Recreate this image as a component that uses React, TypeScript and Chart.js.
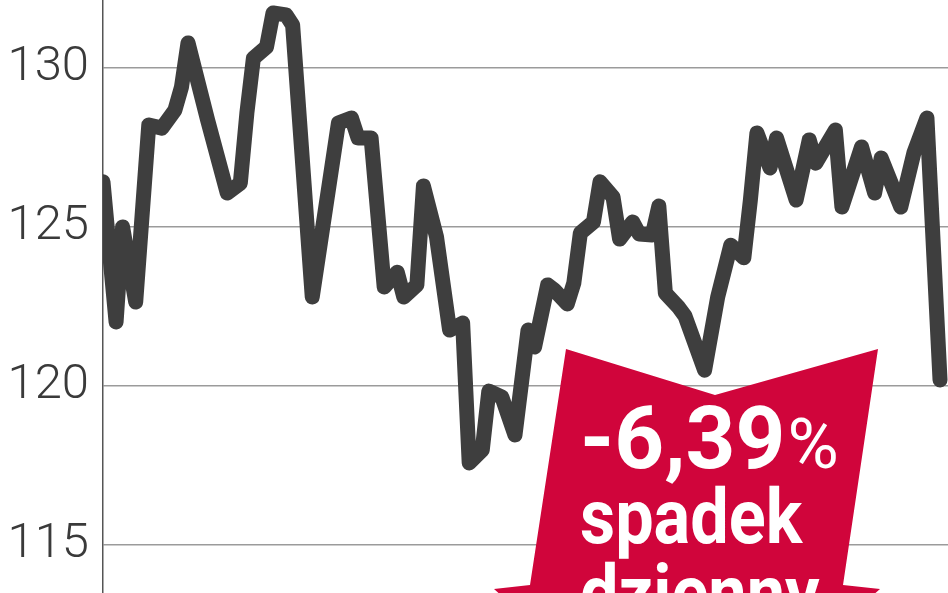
import { useEffect, useRef } from "react"
import { Chart, registerables } from "chart.js"

Chart.register(...registerables)

// trading-day index of each traced turning point, and the closing value there
const days = [
  0, 2, 3, 5, 7, 9, 11, 12, 13, 16, 19, 21, 22, 23, 25, 26, 28, 29, 32, 36, 38, 39, 41, 43, 45, 46, 48, 49, 51, 53,
  55, 56, 58, 59, 61, 63, 65, 66, 68, 69, 71, 72, 73, 75, 76, 78, 79, 81, 82, 84, 85, 86, 88, 89, 92, 94, 96, 98, 99,
  100, 102, 103, 106, 108, 109, 112, 113, 116, 118, 119, 122, 124, 126, 128,
]
const prices = [
  126.42, 122.01, 125.0, 122.64, 128.21, 128.11, 128.68, 129.4, 130.79, 128.36, 126.07, 126.38, 128.58, 130.31, 130.66,
  131.73, 131.67, 131.35, 122.8, 128.27, 128.43, 127.8, 127.8, 123.11, 123.58, 122.8, 123.18, 126.29, 124.69, 121.76,
  121.98, 117.58, 117.99, 119.84, 119.65, 118.46, 121.76, 121.23, 123.18, 123.02, 122.58, 123.24, 124.81, 125.16, 126.42,
  125.94, 124.62, 125.16, 124.78, 124.75, 125.66, 122.92, 122.48, 122.2, 120.5, 122.8, 124.43, 124.03, 125.85, 127.96,
  126.86, 127.8, 125.85, 127.74, 127.01, 128.05, 125.63, 127.52, 126.07, 127.17, 125.63, 127.33, 128.43, 120.19,
]
const yTicks = [115, 120, 125, 130]

const changeLabel = "-6,39"
const changeUnit = "%"
const captionLines = ["spadek", "dzienny"]

export default function App() {
  const chartRef = useRef<HTMLCanvasElement>(null)
  const chartInstance = useRef<Chart | null>(null)

  useEffect(() => {
    if (!chartRef.current) return
    if (chartInstance.current) chartInstance.current.destroy()

    chartInstance.current = new Chart(chartRef.current, {
      type: "line",
      data: {
        datasets: [
          {
            data: days.map((d, i) => ({ x: d, y: prices[i] })),
            borderColor: "#3e3e3e",
            borderWidth: 15,
            borderJoinStyle: "round",
            borderCapStyle: "round",
            pointRadius: 0,
            tension: 0,
          },
        ],
      },
      options: {
        animation: false,
        responsive: true,
        maintainAspectRatio: false,
        layout: { padding: 0 },
        plugins: { legend: { display: false }, tooltip: { enabled: false } },
        scales: {
          x: { type: "linear", display: false, min: 0, max: 129.22 },
          y: {
            min: 113.49,
            max: 132.14,
            afterBuildTicks: (scale) => {
              scale.ticks = yTicks.map((v) => ({ value: v }))
            },
            afterFit: (scale) => {
              scale.width = 103
              scale.paddingTop = 0
              scale.paddingBottom = 0
            },
            grid: { color: "#9b9b9b", lineWidth: 1.5, drawTicks: false },
            border: { display: true, color: "#555", width: 1.5 },
            ticks: {
              padding: 14,
              color: "#3a3a3a",
              font: { family: "Roboto", size: 49, weight: 300 },
            },
          },
        },
      },
    })

    return () => {
      if (chartInstance.current) {
        chartInstance.current.destroy()
        chartInstance.current = null
      }
    }
  }, [])

  const banner =
    "polygon(566px 349px, 715px 395px, 878px 349px, 843px 585px, 880px 589px, 686px 760px, 494px 589px, 530px 585px)"

  return (
    <div style={{ position: "absolute", left: 0, top: 0, width: 948, height: 593, overflow: "hidden", background: "#fff" }}>
      <div style={{ position: "absolute", inset: 0 }}>
        <canvas ref={chartRef} />
      </div>
      <div style={{ position: "absolute", inset: 0, background: "#d0053b", clipPath: banner }} />
      <div
        style={{
          position: "absolute",
          left: 580,
          top: 395,
          fontFamily: "Roboto",
          fontWeight: 700,
          fontSize: 87,
          lineHeight: 1,
          color: "#fff",
          whiteSpace: "nowrap",
        }}
      >
        {changeLabel}
        <span style={{ fontWeight: 400, fontSize: 70, marginLeft: 2 }}>{changeUnit}</span>
      </div>
      {captionLines.map((t, i) => (
        <div
          key={t}
          style={{
            position: "absolute",
            left: 580,
            top: 479 + i * 76,
            fontFamily: "Roboto",
            fontWeight: 700,
            fontSize: 76,
            lineHeight: 1,
            color: "#fff",
            whiteSpace: "nowrap",
            transform: "scaleX(0.9)",
            transformOrigin: "left",
          }}
        >
          {t}
        </div>
      ))}
    </div>
  )
}
